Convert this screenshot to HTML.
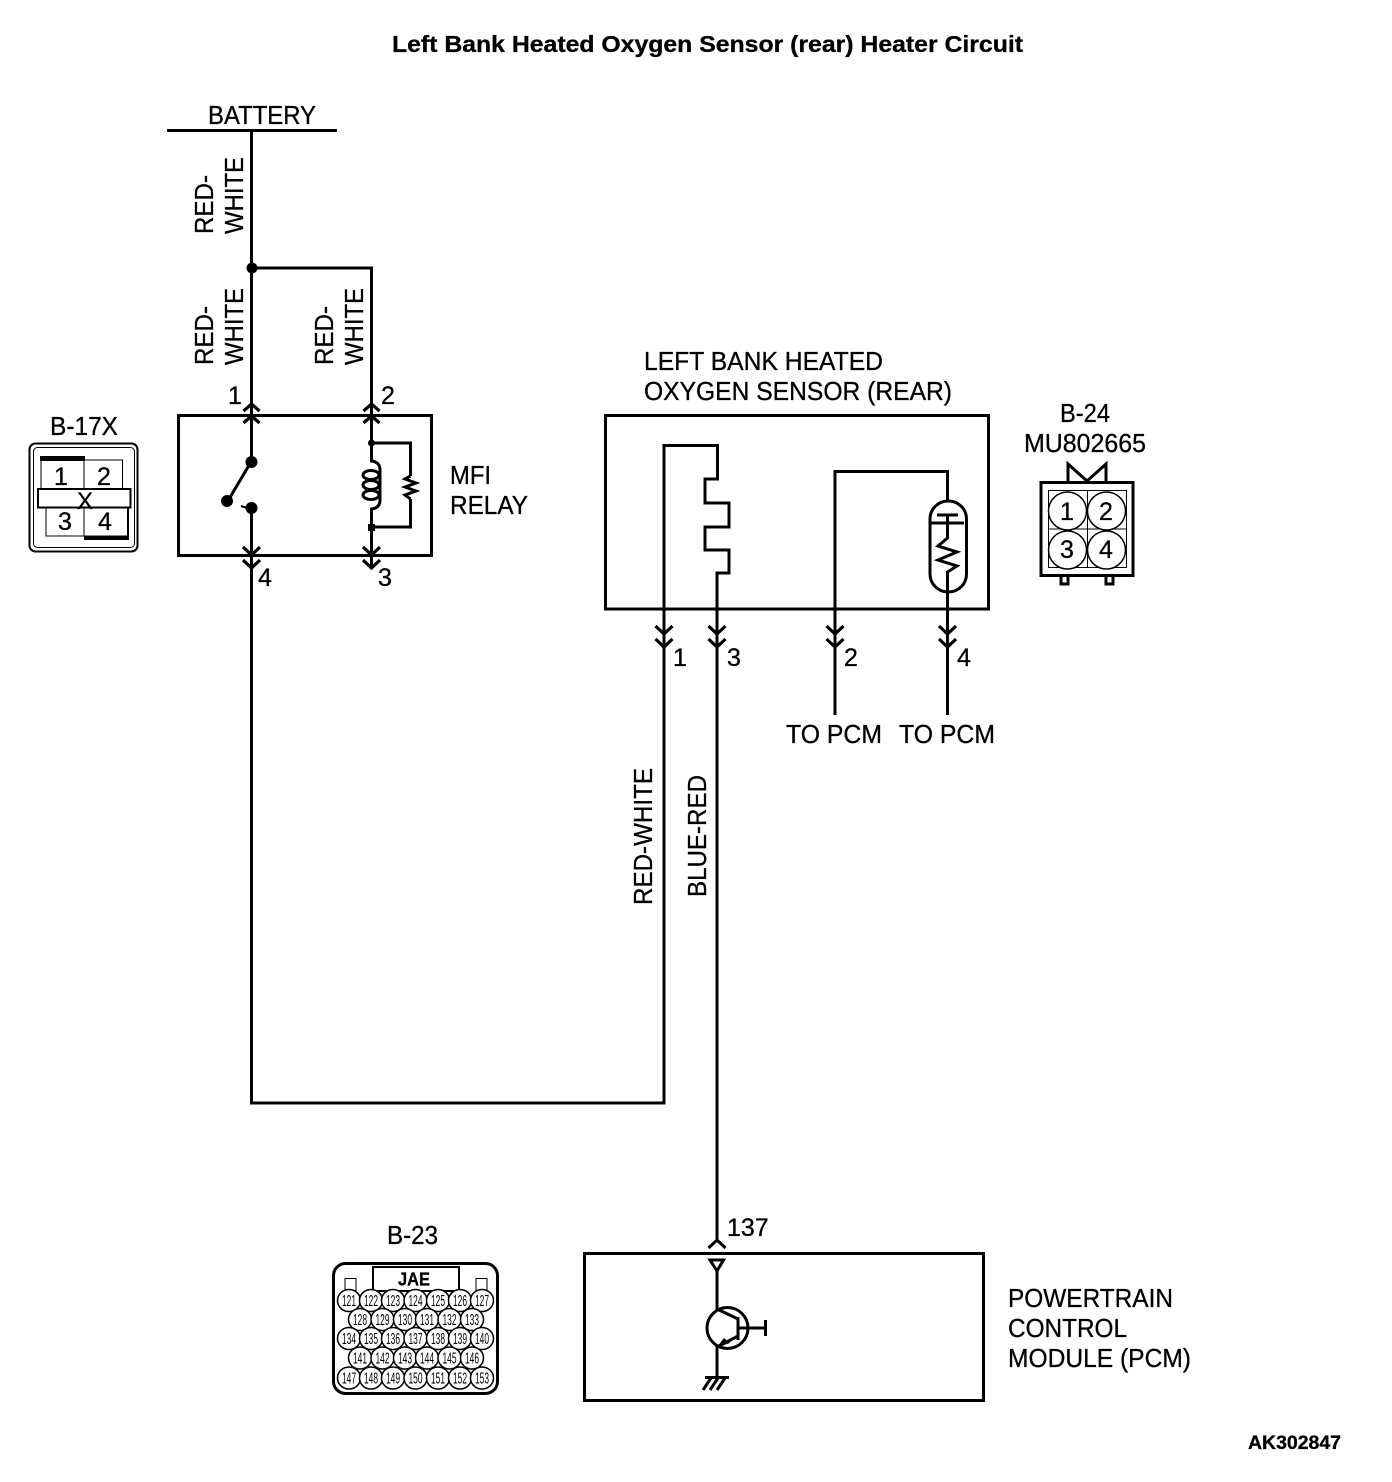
<!DOCTYPE html>
<html>
<head>
<meta charset="utf-8">
<style>
html,body{margin:0;padding:0;background:#fff;}
svg{display:block;}
text{font-family:"Liberation Sans",sans-serif;fill:#000;stroke:#000;stroke-width:.3;}
.t{font-size:26px;}
.n{font-size:25px;}
.c{font-size:16px;stroke:none;}
.w{fill:none;stroke:#000;stroke-width:3;}
.m{fill:none;stroke:#000;stroke-width:2;}
.h{fill:none;stroke:#000;stroke-width:1;}
</style>
</head>
<body>
<svg width="1392" height="1482" viewBox="0 0 1392 1482" xmlns="http://www.w3.org/2000/svg">
<defs>
<path id="up" d="M-8,7 L0,0 L8,7 M-8,19 L0,12 L8,19" fill="none" stroke="#000" stroke-width="3.2"/>
<path id="dn" d="M-8.500,-21 L0,-13 L8.500,-21 M-8.500,-8 L0,0 L8.500,-8" fill="none" stroke="#000" stroke-width="3.2"/>
</defs>

<text x="392" y="52" font-size="23" font-weight="bold" textLength="631" lengthAdjust="spacingAndGlyphs">Left Bank Heated Oxygen Sensor (rear) Heater Circuit</text>

<!-- battery -->
<text class="t" x="208" y="124" textLength="108" lengthAdjust="spacingAndGlyphs">BATTERY</text>
<path class="w" d="M167,130.5 H337"/>
<path class="w" d="M251.5,130 V415 M251.5,268 H371.5 V415"/>
<circle cx="252" cy="268" r="5.5"/>

<text class="t" transform="translate(213,234) rotate(-90)" textLength="59" lengthAdjust="spacingAndGlyphs">RED-</text>
<text class="t" transform="translate(243,234) rotate(-90)" textLength="77" lengthAdjust="spacingAndGlyphs">WHITE</text>
<text class="t" transform="translate(213,365) rotate(-90)" textLength="59" lengthAdjust="spacingAndGlyphs">RED-</text>
<text class="t" transform="translate(243,365) rotate(-90)" textLength="77" lengthAdjust="spacingAndGlyphs">WHITE</text>
<text class="t" transform="translate(333,365) rotate(-90)" textLength="59" lengthAdjust="spacingAndGlyphs">RED-</text>
<text class="t" transform="translate(363,365) rotate(-90)" textLength="77" lengthAdjust="spacingAndGlyphs">WHITE</text>

<!-- relay -->
<rect class="w" x="178.5" y="415.5" width="253" height="140"/>
<use href="#up" x="251.5" y="404"/>
<use href="#up" x="371.5" y="404"/>
<use href="#dn" x="251.5" y="568"/>
<use href="#dn" x="371.5" y="568"/>
<text class="n" x="228" y="404">1</text>
<text class="n" x="381" y="404">2</text>
<text class="n" x="258" y="586">4</text>
<text class="n" x="378" y="586">3</text>
<path class="w" d="M251.5,415 V462 M251.5,508 V1103 H664 V609"/>
<circle cx="251.5" cy="462" r="6"/>
<circle cx="251.5" cy="508" r="6"/>
<circle cx="227" cy="501" r="6"/>
<path class="w" d="M251,462 L229,499"/>
<path class="m" d="M241,506 L247,508"/>
<path class="w" d="M371.500,415 V461 Q380,462 380,470 V500 Q380,508 371.500,509 V567"/>
<ellipse class="w" cx="371" cy="475" rx="8" ry="4.500"/>
<ellipse class="w" cx="371" cy="485" rx="8" ry="4.500"/>
<ellipse class="w" cx="371" cy="495" rx="8" ry="4.500"/>
<circle cx="371.500" cy="443" r="3.500"/>
<rect x="368" y="524" width="7" height="7"/>
<path class="w" d="M372,443 H410.500 V476 M410.500,499 V527 H372"/>
<path class="w" d="M410.500,476 L405,479 L416,483 L405,487 L416,491 L405,495 L410.500,499"/>
<text class="t" x="450" y="484" textLength="41" lengthAdjust="spacingAndGlyphs">MFI</text>
<text class="t" x="450" y="514" textLength="78" lengthAdjust="spacingAndGlyphs">RELAY</text>

<!-- B-17X -->
<text class="t" x="50" y="435" textLength="68" lengthAdjust="spacingAndGlyphs">B-17X</text>
<rect class="m" x="29.500" y="443.500" width="108" height="108" rx="6"/>
<rect class="h" x="33.500" y="447.500" width="101" height="100" rx="4"/>
<rect class="h" x="41" y="460" width="43" height="29"/>
<rect class="h" x="84" y="460" width="38.500" height="29"/>
<rect x="40" y="456" width="45" height="5"/>
<rect class="m" x="38" y="489" width="92.500" height="18.500"/>
<rect class="h" x="46" y="508" width="38" height="28"/>
<rect class="h" x="84" y="508" width="44" height="28"/>
<rect x="84" y="536" width="45" height="4"/>
<rect x="127" y="508" width="2" height="30"/>
<text class="n" x="54" y="485">1</text>
<text class="n" x="97" y="485">2</text>
<text class="n" x="58" y="530">3</text>
<text class="n" x="98" y="530">4</text>
<text x="77" y="509" font-size="24">X</text>

<!-- sensor -->
<text class="t" x="644" y="370" textLength="239" lengthAdjust="spacingAndGlyphs">LEFT BANK HEATED</text>
<text class="t" x="644" y="400" textLength="308" lengthAdjust="spacingAndGlyphs">OXYGEN SENSOR (REAR)</text>
<rect class="w" x="605.500" y="415.500" width="383" height="193.500"/>
<path class="w" d="M664,609 V445.500 H717.500 V479 H705 V503 H729 V527 H705 V550 H729 V573 H717 V1240"/>
<path class="w" d="M835,715 V471.500 H947.500 V501"/>
<rect class="w" x="930" y="501" width="36.500" height="91" rx="18" ry="18"/>
<path class="w" d="M931,523 H964 M937,515 H958 M947.500,515 V538 L938,546 L957,552 L938,560 L957,566 L947.500,572 V715"/>
<use href="#dn" x="664" y="647"/>
<use href="#dn" x="717" y="647"/>
<use href="#dn" x="835" y="647"/>
<use href="#dn" x="947.500" y="647"/>
<text class="n" x="673" y="666">1</text>
<text class="n" x="727" y="666">3</text>
<text class="n" x="844" y="666">2</text>
<text class="n" x="957" y="666">4</text>
<text class="t" x="786" y="743" textLength="96" lengthAdjust="spacingAndGlyphs">TO PCM</text>
<text class="t" x="899" y="743" textLength="96" lengthAdjust="spacingAndGlyphs">TO PCM</text>
<text class="t" transform="translate(652,905) rotate(-90)" textLength="137" lengthAdjust="spacingAndGlyphs">RED-WHITE</text>
<text class="t" transform="translate(706,897) rotate(-90)" textLength="122" lengthAdjust="spacingAndGlyphs">BLUE-RED</text>

<!-- B-24 -->
<text class="t" x="1060" y="422" textLength="50" lengthAdjust="spacingAndGlyphs">B-24</text>
<text class="t" x="1024" y="452" textLength="122" lengthAdjust="spacingAndGlyphs">MU802665</text>
<rect class="w" x="1041" y="482.500" width="92" height="93"/>
<rect class="h" x="1048.500" y="490.500" width="78" height="77"/>
<path class="h" d="M1087.500,490 V567 M1048,529 H1127"/>
<path class="w" d="M1068,482 V464 L1087,481 L1106,464 V482"/>
<circle cx="1067.500" cy="511" r="19" fill="#fff" stroke="#000" stroke-width="1.500"/>
<circle cx="1106.500" cy="511" r="19" fill="#fff" stroke="#000" stroke-width="1.500"/>
<circle cx="1067.500" cy="550" r="19" fill="#fff" stroke="#000" stroke-width="1.500"/>
<circle cx="1106.500" cy="550" r="19" fill="#fff" stroke="#000" stroke-width="1.500"/>
<text class="n" x="1060" y="520">1</text>
<text class="n" x="1099" y="520">2</text>
<text class="n" x="1060" y="558">3</text>
<text class="n" x="1099" y="558">4</text>
<path class="w" d="M1061,576 V584 H1068 V576 M1106,576 V584 H1113 V576"/>

<!-- B-23 -->
<text class="t" x="387" y="1244" textLength="51" lengthAdjust="spacingAndGlyphs">B-23</text>
<rect class="w" x="333.500" y="1263.500" width="164" height="130" rx="12"/>
<rect class="m" x="373" y="1267" width="86" height="24"/>
<rect class="h" x="345" y="1278.500" width="11" height="12"/>
<rect class="h" x="476" y="1278.500" width="11" height="12"/>
<text x="398" y="1285.500" font-size="18" font-weight="bold" textLength="32" lengthAdjust="spacingAndGlyphs">JAE</text>
<g fill="#fff" stroke="#000" stroke-width="1.500">
<ellipse cx="349" cy="1300.500" rx="11.500" ry="11"/><ellipse cx="371" cy="1300.500" rx="11.500" ry="11"/><ellipse cx="393" cy="1300.500" rx="11.500" ry="11"/><ellipse cx="415.500" cy="1300.500" rx="11.500" ry="11"/><ellipse cx="438" cy="1300.500" rx="11.500" ry="11"/><ellipse cx="460" cy="1300.500" rx="11.500" ry="11"/><ellipse cx="482" cy="1300.500" rx="11.500" ry="11"/>
<ellipse cx="360" cy="1319.500" rx="11.500" ry="11"/><ellipse cx="382.500" cy="1319.500" rx="11.500" ry="11"/><ellipse cx="405" cy="1319.500" rx="11.500" ry="11"/><ellipse cx="427" cy="1319.500" rx="11.500" ry="11"/><ellipse cx="449.500" cy="1319.500" rx="11.500" ry="11"/><ellipse cx="472" cy="1319.500" rx="11.500" ry="11"/>
<ellipse cx="349" cy="1338.500" rx="11.500" ry="11"/><ellipse cx="371" cy="1338.500" rx="11.500" ry="11"/><ellipse cx="393" cy="1338.500" rx="11.500" ry="11"/><ellipse cx="415.500" cy="1338.500" rx="11.500" ry="11"/><ellipse cx="438" cy="1338.500" rx="11.500" ry="11"/><ellipse cx="460" cy="1338.500" rx="11.500" ry="11"/><ellipse cx="482" cy="1338.500" rx="11.500" ry="11"/>
<ellipse cx="360" cy="1358" rx="11.500" ry="11"/><ellipse cx="382.500" cy="1358" rx="11.500" ry="11"/><ellipse cx="405" cy="1358" rx="11.500" ry="11"/><ellipse cx="427" cy="1358" rx="11.500" ry="11"/><ellipse cx="449.500" cy="1358" rx="11.500" ry="11"/><ellipse cx="472" cy="1358" rx="11.500" ry="11"/>
<ellipse cx="349" cy="1378" rx="11.500" ry="11"/><ellipse cx="371" cy="1378" rx="11.500" ry="11"/><ellipse cx="393" cy="1378" rx="11.500" ry="11"/><ellipse cx="415.500" cy="1378" rx="11.500" ry="11"/><ellipse cx="438" cy="1378" rx="11.500" ry="11"/><ellipse cx="460" cy="1378" rx="11.500" ry="11"/><ellipse cx="482" cy="1378" rx="11.500" ry="11"/>
</g>
<g>
<text class="c" x="342" y="1306" textLength="14" lengthAdjust="spacingAndGlyphs">121</text><text class="c" x="364" y="1306" textLength="14" lengthAdjust="spacingAndGlyphs">122</text><text class="c" x="386" y="1306" textLength="14" lengthAdjust="spacingAndGlyphs">123</text><text class="c" x="408.500" y="1306" textLength="14" lengthAdjust="spacingAndGlyphs">124</text><text class="c" x="431" y="1306" textLength="14" lengthAdjust="spacingAndGlyphs">125</text><text class="c" x="453" y="1306" textLength="14" lengthAdjust="spacingAndGlyphs">126</text><text class="c" x="475" y="1306" textLength="14" lengthAdjust="spacingAndGlyphs">127</text>
<text class="c" x="353" y="1325" textLength="14" lengthAdjust="spacingAndGlyphs">128</text><text class="c" x="375.500" y="1325" textLength="14" lengthAdjust="spacingAndGlyphs">129</text><text class="c" x="398" y="1325" textLength="14" lengthAdjust="spacingAndGlyphs">130</text><text class="c" x="420" y="1325" textLength="14" lengthAdjust="spacingAndGlyphs">131</text><text class="c" x="442.500" y="1325" textLength="14" lengthAdjust="spacingAndGlyphs">132</text><text class="c" x="465" y="1325" textLength="14" lengthAdjust="spacingAndGlyphs">133</text>
<text class="c" x="342" y="1344" textLength="14" lengthAdjust="spacingAndGlyphs">134</text><text class="c" x="364" y="1344" textLength="14" lengthAdjust="spacingAndGlyphs">135</text><text class="c" x="386" y="1344" textLength="14" lengthAdjust="spacingAndGlyphs">136</text><text class="c" x="408.500" y="1344" textLength="14" lengthAdjust="spacingAndGlyphs">137</text><text class="c" x="431" y="1344" textLength="14" lengthAdjust="spacingAndGlyphs">138</text><text class="c" x="453" y="1344" textLength="14" lengthAdjust="spacingAndGlyphs">139</text><text class="c" x="475" y="1344" textLength="14" lengthAdjust="spacingAndGlyphs">140</text>
<text class="c" x="353" y="1363.500" textLength="14" lengthAdjust="spacingAndGlyphs">141</text><text class="c" x="375.500" y="1363.500" textLength="14" lengthAdjust="spacingAndGlyphs">142</text><text class="c" x="398" y="1363.500" textLength="14" lengthAdjust="spacingAndGlyphs">143</text><text class="c" x="420" y="1363.500" textLength="14" lengthAdjust="spacingAndGlyphs">144</text><text class="c" x="442.500" y="1363.500" textLength="14" lengthAdjust="spacingAndGlyphs">145</text><text class="c" x="465" y="1363.500" textLength="14" lengthAdjust="spacingAndGlyphs">146</text>
<text class="c" x="342" y="1383.500" textLength="14" lengthAdjust="spacingAndGlyphs">147</text><text class="c" x="364" y="1383.500" textLength="14" lengthAdjust="spacingAndGlyphs">148</text><text class="c" x="386" y="1383.500" textLength="14" lengthAdjust="spacingAndGlyphs">149</text><text class="c" x="408.500" y="1383.500" textLength="14" lengthAdjust="spacingAndGlyphs">150</text><text class="c" x="431" y="1383.500" textLength="14" lengthAdjust="spacingAndGlyphs">151</text><text class="c" x="453" y="1383.500" textLength="14" lengthAdjust="spacingAndGlyphs">152</text><text class="c" x="475" y="1383.500" textLength="14" lengthAdjust="spacingAndGlyphs">153</text>
</g>

<!-- PCM -->
<rect class="w" x="584.500" y="1253.500" width="399" height="147"/>
<path class="w" d="M708.500,1248 L717,1240 L725.500,1248"/>
<text class="n" x="727" y="1236">137</text>
<path class="w" d="M710,1260 H723.500 L717,1271 Z"/>
<path class="w" d="M717,1271 V1309 L738,1319 M738,1336 L717,1347 V1378"/>
<circle cx="727.500" cy="1328" r="20.500" fill="none" stroke="#000" stroke-width="3"/>
<path class="w" d="M738,1317 V1340 M738,1328 H765"/>
<path class="w" d="M765.500,1320 V1336"/>
<path d="M717,1347 L724,1338 L730,1343 Z"/>
<path class="w" d="M705,1377.500 H729"/>
<path class="w" d="M711,1378 L703,1390 M718,1378 L710,1390 M725,1378 L717,1390"/>
<text class="t" x="1008" y="1307" textLength="165" lengthAdjust="spacingAndGlyphs">POWERTRAIN</text>
<text class="t" x="1008" y="1337" textLength="119" lengthAdjust="spacingAndGlyphs">CONTROL</text>
<text class="t" x="1008" y="1367" textLength="183" lengthAdjust="spacingAndGlyphs">MODULE (PCM)</text>

<text x="1248" y="1449" font-size="19" font-weight="bold" textLength="93" lengthAdjust="spacingAndGlyphs">AK302847</text>
</svg>
</body>
</html>
